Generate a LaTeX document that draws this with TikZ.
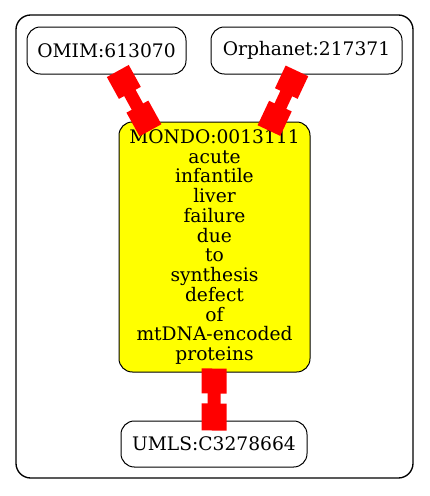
\documentclass[tikz,border=0pt]{standalone}
\usepackage{fontspec}
\setmainfont{DejaVu Serif}
\usetikzlibrary{calc}
\definecolor{nodeyellow}{RGB}{255,255,0}
\definecolor{edgered}{RGB}{255,0,0}
\tikzset{
  box/.style={draw=black, line width=0.75pt, rounded corners=10pt, align=center, inner sep=0pt,
    font=\fontsize{14}{14.8}\selectfont},
  edgeline/.style={draw=edgered, line width=9.75pt},
  teebox/.style={draw=edgered, line width=18.75pt},
}
\begin{document}
\begin{tikzpicture}[x=0.75pt,y=-0.75pt]
\useasboundingbox (0,0) rectangle (429,496);
\draw[line width=1pt, rounded corners=11pt] (16,15) rectangle (413,478);
\node[box, minimum width=119.25pt, minimum height=35.25pt] (omim) at (106.5,50.5) {OMIM:613070};
\node[box, minimum width=143.25pt, minimum height=35.25pt] (orpha) at (306.5,50.5) {Orphanet:217371};
\node[box, fill=nodeyellow, minimum width=143.25pt, minimum height=187.5pt] (mondo) at (214.5,247)
  {MONDO:0013111\\acute\\infantile\\liver\\failure\\due\\to\\synthesis\\defect\\of\\mtDNA-encoded\\proteins};
\node[box, minimum width=139.5pt, minimum height=34.5pt] (umls) at (214,444) {UMLS:C3278664};
\path (omim) -- (mondo) coordinate[pos=0] (e1a) coordinate[pos=1] (e1b);
\path (orpha) -- (mondo) coordinate[pos=0] (e2a) coordinate[pos=1] (e2b);
\path (mondo) -- (umls) coordinate[pos=0] (e3a) coordinate[pos=1] (e3b);
\foreach \a/\b in {e1a/e1b, e2a/e2b, e3a/e3b}{
  \draw[edgeline] (\a) -- (\b);
  \draw[teebox] ($(\a)!-3pt!(\b)$) -- ($(\a)!15.75pt!(\b)$);
  \draw[teebox] ($(\b)!12.75pt!(\a)$) -- ($(\b)!-7.5pt!(\a)$);
}
\end{tikzpicture}
\end{document}
